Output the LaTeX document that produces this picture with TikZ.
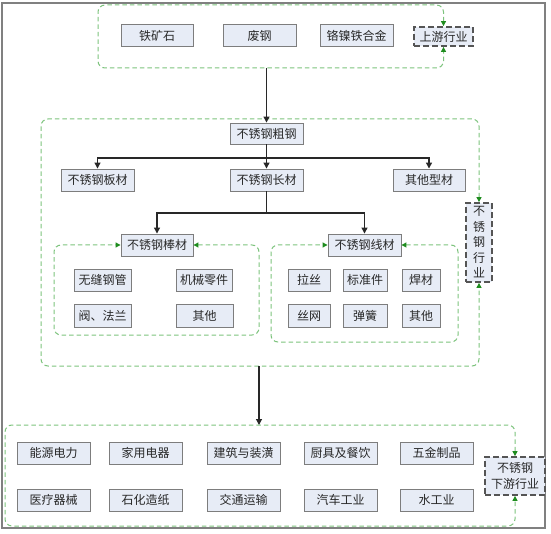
\documentclass[tikz,border=0pt]{standalone}
\usepackage{fontspec}
\newfontfamily\cjk{Noto Sans CJK SC}
\usepackage{tikz}
\usetikzlibrary{arrows.meta}

\definecolor{boxfill}{RGB}{231,236,246}
\definecolor{boxline}{RGB}{125,125,125}
\definecolor{tagline}{RGB}{85,85,85}
\definecolor{txt}{RGB}{40,40,40}
\definecolor{grpline}{RGB}{125,195,125}
\definecolor{grptip}{RGB}{30,140,30}
\definecolor{framegray}{RGB}{128,128,128}

\tikzset{
  box/.style={draw=boxline, fill=boxfill, line width=0.9pt, minimum height=22pt,
    inner sep=0pt, text=txt, font=\cjk\fontsize{12}{12}\selectfont},
  tagbox/.style={box, draw=tagline, line width=1.8pt, dash pattern=on 6pt off 3pt},
  grp/.style={draw=grpline, line width=1pt, dash pattern=on 4.5pt off 3pt, rounded corners=7pt,
    {Triangle[length=5pt,width=5pt,color=grptip]}-{Triangle[length=5pt,width=5pt,color=grptip]}},
  arr/.style={draw=txt, line width=1.2pt, -{Triangle[length=6pt,width=6pt]}},
  link/.style={draw=txt, line width=1.2pt}
}

\begin{document}
\begin{tikzpicture}[x=1pt,y=-1pt]
        \useasboundingbox (0,0) rectangle (551,534);
        % Outer frame
        \draw[framegray, line width=1.2pt] (2,3) rectangle (545,528);

        % Upstream raw materials
        \node[box, minimum width=72pt] (tks) at (157,35.5) {铁矿石};
        \node[box, minimum width=73pt] (fg) at (259.5,35.5) {废钢};
        \node[box, minimum width=73pt] (hj) at (356.5,35.5) {铬镍铁合金};
        \node[tagbox, minimum width=59pt, minimum height=19pt] (up) at (443.5,36.5) {上游行业};

        % Stainless steel products
        \node[box, minimum width=73pt, minimum height=21pt] (cg) at (266.5,133.5) {不锈钢粗钢};
        \node[box, minimum width=73pt] (bc) at (97.5,180) {不锈钢板材};
        \node[box, minimum width=73pt] (cc) at (266.5,180) {不锈钢长材};
        \node[box, minimum width=72pt] (qx) at (429,180) {其他型材};
        \node[box, minimum width=72pt] (bang) at (157,245) {不锈钢棒材};
        \node[box, minimum width=73pt] (xian) at (364.5,245) {不锈钢线材};
        \node[tagbox, minimum width=26pt, minimum height=79pt, align=center,
              font=\cjk\fontsize{12}{15.5}\selectfont] (hy) at (479,242.5) {不\\锈\\钢\\行\\业};

        % Bar products
        \node[box, minimum width=57pt] (wf) at (102.5,280) {无缝钢管};
        \node[box, minimum width=56pt] (jx) at (204,280) {机械零件};
        \node[box, minimum width=57pt, minimum height=23pt] (ff) at (102.5,315.5) {阀、法兰};
        \node[box, minimum width=57pt, minimum height=23pt] (qta) at (204.5,315.5) {其他};

        % Wire products
        \node[box, minimum width=42pt] (ls) at (309,280) {拉丝};
        \node[box, minimum width=44pt] (bz) at (365,280) {标准件};
        \node[box, minimum width=38pt] (hc) at (421,280) {焊材};
        \node[box, minimum width=42pt, minimum height=23pt] (sw) at (309,315.5) {丝网};
        \node[box, minimum width=44pt, minimum height=23pt] (th) at (365,315.5) {弹簧};
        \node[box, minimum width=38pt, minimum height=23pt] (qtb) at (421,315.5) {其他};

        % Downstream industries
        \node[box, minimum width=73pt] (ny) at (53.5,453) {能源电力};
        \node[box, minimum width=73pt] (jy) at (145.5,453) {家用电器};
        \node[box, minimum width=73pt] (jz) at (243.5,453) {建筑与装潢};
        \node[box, minimum width=73pt] (cj) at (340.5,453) {厨具及餐饮};
        \node[box, minimum width=73pt] (wj) at (436.5,453) {五金制品};
        \node[box, minimum width=73pt] (yl) at (53.5,500) {医疗器械};
        \node[box, minimum width=73pt] (sh) at (145.5,500) {石化造纸};
        \node[box, minimum width=73pt] (jt) at (243.5,500) {交通运输};
        \node[box, minimum width=73pt] (qc) at (340.5,500) {汽车工业};
        \node[box, minimum width=73pt] (sg) at (436.5,500) {水工业};
        \node[tagbox, minimum width=60pt, minimum height=38pt, align=center,
              font=\cjk\fontsize{12}{16}\selectfont] (down) at (515,476) {不锈钢\\下游行业};

        % Green dashed groups
        \draw[grp] (up.north) -- (443.5,5) -- (98,5) -- (98,68) -- (443.5,68) -- (up.south);
        \draw[grp] (hy.north) -- (479,119) -- (41,119) -- (41,366) -- (479,366) -- (hy.south);
        \draw[grp] (bang.east) -- (259,245) -- (259,335) -- (54,335) -- (54,245) -- (bang.west);
        \draw[grp] (xian.east) -- (458,245) -- (458,342) -- (271,342) -- (271,245) -- (xian.west);
        \draw[grp] (down.north) -- (515,425) -- (5,425) -- (5,526) -- (515,526) -- (down.south);

        % Connectors
        \coordinate (topb) at (266.5,68);
        \coordinate (split1) at (266.5,158);
        \coordinate (split2) at (266.5,213);
        \coordinate (midb) at (259,366);
        \coordinate (botc) at (259,425);
        \draw[arr] (topb) -- (cg);
        \draw[link] (cg) -- (split1);
        \draw[arr] (split1) -| (bc);
        \draw[arr] (split1) -- (cc);
        \draw[arr] (split1) -| (qx);
        \draw[link] (cc) -- (split2);
        \draw[arr] (split2) -| (bang);
        \draw[arr] (split2) -| (xian);
        \draw[arr] (midb) -- (botc);

    \end{tikzpicture}
\end{document}
